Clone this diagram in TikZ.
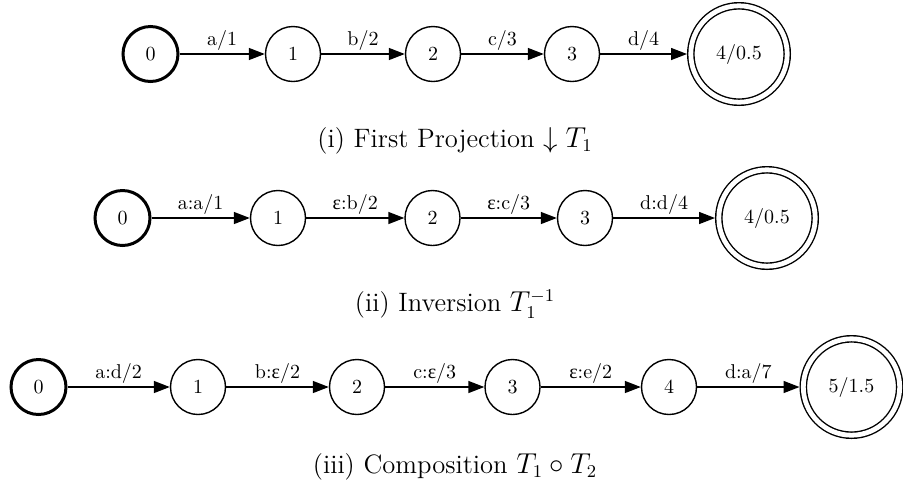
\documentclass[tikz,border=0pt]{standalone}
\usepackage{fontspec}
\newfontfamily\grk{Liberation Serif}
\newcommand{\eps}{{\grk ε}}
\usetikzlibrary{arrows.meta}
\begin{document}
\begin{tikzpicture}[x=0.5pt,y=-0.5pt,
  st/.style={circle,draw,line width=0.7pt,minimum size=27.5pt,inner sep=0pt,font=\fontsize{10}{12}\selectfont},
  init/.style={st,line width=1.5pt},
  fin/.style={circle,draw,line width=0.7pt,double,double distance=2.4pt,minimum size=48.2pt,inner sep=0pt,outer sep=1.9pt,font=\fontsize{10}{12}\selectfont},
  tr/.style={-{Triangle[length=8pt,width=6pt]},line width=0.7pt},
  lab/.style={midway,above,inner sep=1.5pt,font=\fontsize{10}{12}\selectfont},
  captxt/.style={font=\fontsize{13.3}{16}\selectfont}]
\useasboundingbox (0,0) rectangle (903,494);
% row 1
\node[init] (a0) at (150.5,54) {0};
\node[st] (a1) at (293,54) {1};
\node[st] (a2) at (433,54) {2};
\node[st] (a3) at (572,54) {3};
\node[fin] (a4) at (739,54) {4/0.5};
\draw[tr] (a0) -- node[lab] {a/1} (a1);
\draw[tr] (a1) -- node[lab] {b/2} (a2);
\draw[tr] (a2) -- node[lab] {c/3} (a3);
\draw[tr] (a3) -- node[lab] {d/4} (a4);
\node[captxt] (c1) at (455,141) {(i) First Projection $\downarrow T_1$};
% row 2
\node[init] (b0) at (122.5,218) {0};
\node[st] (b1) at (278,218) {1};
\node[st] (b2) at (432.5,218) {2};
\node[st] (b3) at (585,218) {3};
\node[fin] (b4) at (767,218) {4/0.5};
\draw[tr] (b0) -- node[lab] {a:a/1} (b1);
\draw[tr] (b1) -- node[lab] {\eps:b/2} (b2);
\draw[tr] (b2) -- node[lab] {\eps:c/3} (b3);
\draw[tr] (b3) -- node[lab] {d:d/4} (b4);
\node[captxt] (c2) at (455,304) {(ii) Inversion $T_1^{-1}$};
% row 3
\node[init] (d0) at (38.5,387) {0};
\node[st] (d1) at (198,387) {1};
\node[st] (d2) at (357,387) {2};
\node[st] (d3) at (512.5,387) {3};
\node[st] (d4) at (669,387) {4};
\node[fin] (d5) at (851.5,387) {5/1.5};
\draw[tr] (d0) -- node[lab] {a:d/2} (d1);
\draw[tr] (d1) -- node[lab] {b:\eps/2} (d2);
\draw[tr] (d2) -- node[lab] {c:\eps/3} (d3);
\draw[tr] (d3) -- node[lab] {\eps:e/2} (d4);
\draw[tr] (d4) -- node[lab] {d:a/7} (d5);
\node[captxt] (c3) at (455,467) {(iii) Composition $T_1\circ T_2$};
\end{tikzpicture}
\end{document}
